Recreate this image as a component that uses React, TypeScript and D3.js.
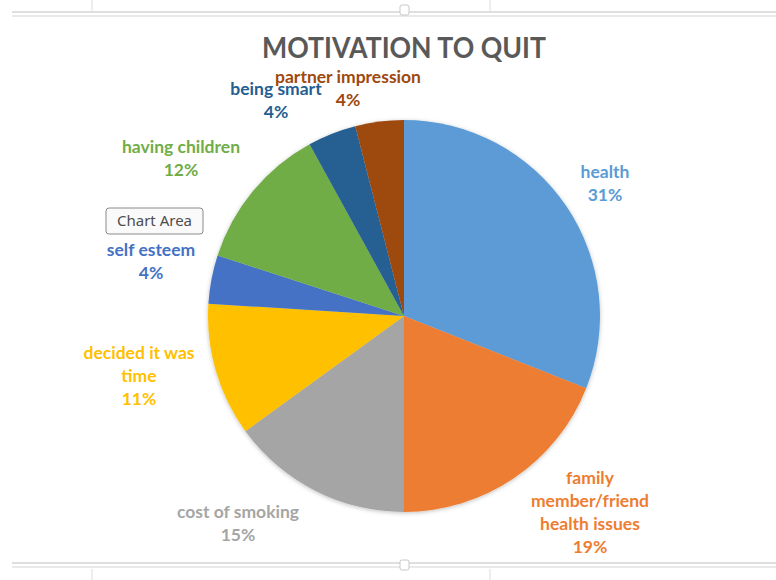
import React from "react";
import * as d3 from "d3";

const categories = [
  "health",
  "family member/friend health issues",
  "cost of smoking",
  "decided it was time",
  "self esteem",
  "having children",
  "being smart",
  "partner impression",
];
const values = [31, 19, 15, 11, 4, 12, 4, 4];
const colors = ["#5B9BD5", "#ED7D31", "#A5A5A5", "#FFC000", "#4472C4", "#70AD47", "#255E91", "#9E480E"];
const labelLines = [
  ["health"],
  ["family", "member/friend", "health issues"],
  ["cost of smoking"],
  ["decided it was", "time"],
  ["self esteem"],
  ["having children"],
  ["being smart"],
  ["partner impression"],
];
// label block layout: center x, first baseline y
const labelLayout: [number, number][] = [
  [605, 178],
  [590, 484],
  [238, 518],
  [139, 359],
  [151, 256],
  [181, 153],
  [276, 95],
  [348, 83],
];

const W = 776;
const H = 580;
const cx = 404;
const cy = 316;
const R = 196;

export default function App() {
  const pie = d3.pie<number>().sort(null).value((d) => d);
  const arcs = pie(values);
  const arc = d3.arc<d3.PieArcDatum<number>>().innerRadius(0).outerRadius(R);
  const font = "Lato, 'Open Sans', sans-serif";
  const lh = 23;
  return (
    <svg
      width={W}
      height={H}
      style={{ position: "absolute", left: 0, top: 0, background: "#fff" }}
    >
      <defs>
        <filter id="sh" x="-20%" y="-20%" width="140%" height="140%">
          <feDropShadow dx="0" dy="1" stdDeviation="2" floodColor="#000" floodOpacity="0.25" />
        </filter>
      </defs>
      {/* frame lines */}
      <line x1={12} x2={W} y1={12} y2={12} stroke="#d4d4d4" strokeWidth={1.5} />
      <line x1={12} x2={W} y1={16} y2={16} stroke="#e2e2e2" strokeWidth={1.5} />
      <line x1={92} x2={92} y1={0} y2={11} stroke="#dcdcdc" />
      <line x1={490} x2={490} y1={0} y2={11} stroke="#dcdcdc" />
      <rect x={400} y={5} width={9} height={10} rx={2} fill="#fff" stroke="#c8c8c8" />
      <line x1={12} x2={W} y1={563} y2={563} stroke="#d4d4d4" strokeWidth={1.5} />
      <line x1={12} x2={W} y1={567} y2={567} stroke="#e2e2e2" strokeWidth={1.5} />
      <line x1={92} x2={92} y1={569} y2={H} stroke="#dcdcdc" />
      <line x1={490} x2={490} y1={569} y2={H} stroke="#dcdcdc" />
      <rect x={400} y={560} width={9} height={10} rx={2} fill="#fff" stroke="#c8c8c8" />

      <text
        x={404}
        y={58}
        textAnchor="middle"
        fontFamily={font}
        fontWeight={700}
        fontSize={28}
        fill="#595959"
        textLength={284}
        lengthAdjust="spacingAndGlyphs"
      >
        MOTIVATION TO QUIT
      </text>

      <g transform={`translate(${cx},${cy})`} filter="url(#sh)">
        {arcs.map((a, i) => (
          <path key={categories[i]} d={arc(a) || ""} fill={colors[i]} />
        ))}
      </g>

      {arcs.map((a, i) => {
        const [lx, ly] = labelLayout[i];
        const lines = [...labelLines[i], `${values[i]}%`];
        return (
          <text
            key={"l" + i}
            textAnchor="middle"
            fontFamily={font}
            fontWeight={700}
            fontSize={17.5}
            fill={colors[i]}
          >
            {lines.map((t, j) => (
              <tspan key={j} x={lx} y={ly + j * lh}>
                {t}
              </tspan>
            ))}
          </text>
        );
      })}

      {/* tooltip */}
      <g>
        <rect x={106} y={208} width={97} height={26} rx={3} fill="#fafafa" stroke="#8a8a8a" />
        <text x={154.5} y={226} textAnchor="middle" fontFamily="'Noto Sans', sans-serif" fontSize={15} fill="#4d4d4d">
          Chart Area
        </text>
      </g>
    </svg>
  );
}
